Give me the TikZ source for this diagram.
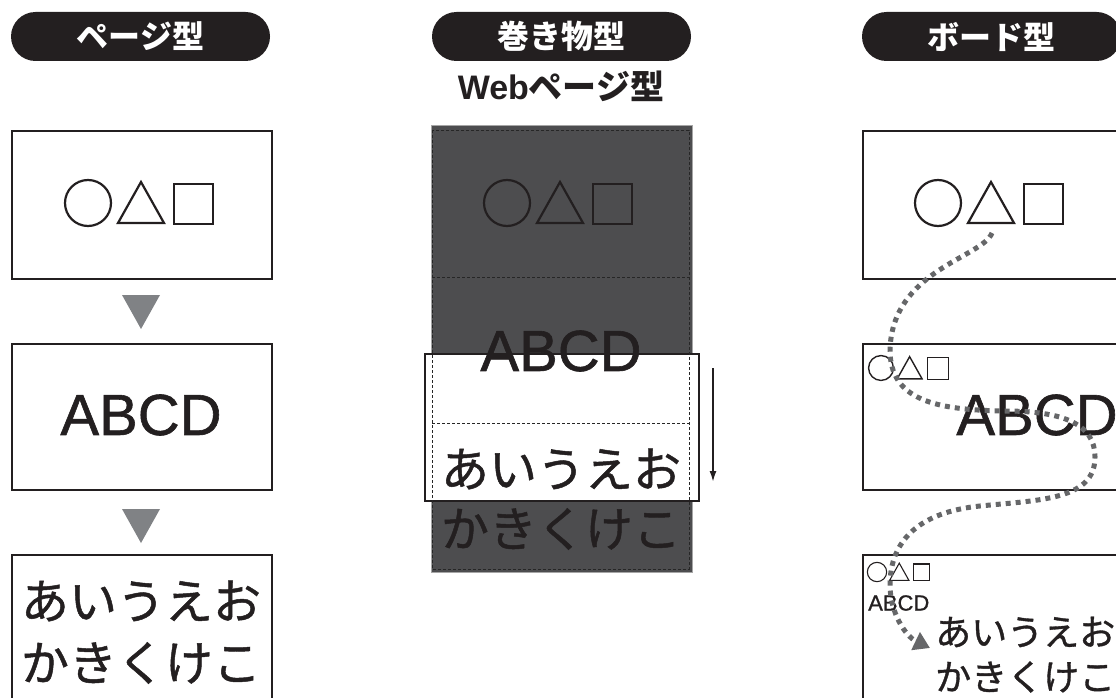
\documentclass[tikz,border=0pt]{standalone}
\usepackage{fontspec}
\setmainfont{Liberation Sans}
\newfontfamily\jp{Noto Sans CJK JP}
\newfontfamily\jpk[FakeBold=1]{Noto Sans CJK JP}
\newfontfamily\latk[FakeBold=1]{Liberation Sans}
\usetikzlibrary{arrows.meta}
\definecolor{ink}{HTML}{231F20}
\definecolor{darkfill}{HTML}{4D4D4F}
\definecolor{markc}{HTML}{808285}
\definecolor{dotc}{HTML}{666769}
\begin{document}
\begin{tikzpicture}[x=1pt,y=-1pt,
  box/.style={draw=ink,line width=2pt,anchor=north west,inner sep=0pt},
  pill/.style={fill=ink,rounded corners=24.5pt,minimum width=259pt,minimum height=49pt,inner sep=0pt,text=white,font=\jp\bfseries\fontsize{32}{32}\selectfont},
  big/.style={text=ink,inner sep=0pt,font=\latk\fontsize{58}{58}\selectfont},
  kana/.style={text=ink,inner sep=0pt,font=\jpk\fontsize{48}{48}\selectfont},
  kanasm/.style={text=ink,inner sep=0pt,anchor=west,font=\jpk\fontsize{36}{36}\selectfont},
  shp/.style={draw=ink,line width=2.2pt},
  shpsm/.style={draw=ink,line width=1.4pt},
  dsh/.style={draw=black!85,line width=0.9pt,dash pattern=on 3pt off 2pt},
  dotpath/.style={draw=dotc,line width=5pt,dash pattern=on 5pt off 5pt},
  tri3/.pic={
    \draw[pic actions] (0,0) circle (23pt);
    \draw[pic actions,line join=miter] (30,20) -- (76,20) -- (53,-21) -- cycle;
    \draw[pic actions] (86,-19) rectangle (125,21);
  }
]
\useasboundingbox (0,0) rectangle (1116,698);
\clip (0,0) rectangle (1116,698);

% ---------- headers ----------
\node[pill] (h1) at (140.5,36.5) {ページ型};
\node[pill] (h2) at (561.5,36.5) {巻き物型};
\node[pill] (h3) at (991.5,36.5) {ボード型};
\node[text=ink,inner sep=0pt] (h2sub) at (561,86) {\fontsize{34}{34}\selectfont\bfseries Web\jp ページ型};

% ---------- left column ----------
\node[box,minimum width=260pt,minimum height=148pt] (L1) at (11,130) {};
\node[box,minimum width=260pt,minimum height=146pt] (L2) at (11,343) {};
\node[box,minimum width=260pt,minimum height=170pt] (L3) at (11,554) {};
\pic[shp] at (88,203) {tri3};
\fill[markc] (122,295) -- (160,295) -- (141,329) -- cycle;
\fill[markc] (122,509) -- (160,509) -- (141,543) -- cycle;
\node[big] (LA) at (141,415) {ABCD};
\node[kana] (LK1) at (141,601) {あいうえお};
\node[kana] (LK2) at (141,663) {かきくけこ};

% ---------- middle column ----------
\node[fill=darkfill,draw=black!35,line width=0.8pt,anchor=north west,minimum width=261pt,minimum height=447pt,inner sep=0pt] (scroll) at (431,125) {};
\pic[shp] at (507,203) {tri3};
\node[fill=white,draw=ink,line width=1.5pt,anchor=north west,minimum width=274pt,minimum height=147pt,inner sep=0pt] (win) at (424,353) {};
\draw[dsh] (432,130) rectangle (689,569);
\draw[dsh] (432,277) -- (689,277);
\draw[dsh] (432,423) -- (689,423);
\node[big] (MA) at (561,351) {ABCD};
\node[kana] (MK1) at (561,469) {あいうえお};
\node[kana] (MK2) at (561,529) {かきくけこ};
\coordinate (sa) at (713,368);
\coordinate (sb) at (713,482);
\draw[ink,line width=1.8pt,-{Latex[length=11pt,width=7pt]}] (sa) -- (sb);

% ---------- right column ----------
\node[box,minimum width=272pt,minimum height=148pt] (R1) at (862,130) {};
\node[box,minimum width=272pt,minimum height=146pt] (R2) at (862,343) {};
\node[box,minimum width=272pt,minimum height=170pt] (R3) at (862,554) {};
\pic[shp] at (938,203) {tri3};
\pic[shpsm,scale=0.54] at (881,368) {tri3};
\pic[shpsm,line width=1.1pt,scale=0.42] at (877,572) {tri3};
\node[big] (RA) at (1037,415) {ABCD};
\node[text=ink,inner sep=0pt,anchor=west,font=\latk\fontsize{22}{22}\selectfont] (Ra) at (868,603) {ABCD};
\node[kanasm] (RK1) at (935,632) {あいうえお};
\node[kanasm] (RK2) at (935,677) {かきくけこ};

\coordinate (ds) at (992,233);
\coordinate (de) at (930,648);
\draw[dotpath,-{Triangle[length=16pt,width=19pt]}] (ds)
  .. controls (982,258) and (892,270) .. (890,350)
  .. controls (890,400) and (935,410) .. (1005,411)
  .. controls (1065,411) and (1095,425) .. (1095,457)
  .. controls (1095,500) and (1040,500) .. (980,506)
  .. controls (920,512) and (890,540) .. (890,585)
  .. controls (890,612) and (905,636) .. (de);
\end{tikzpicture}
\end{document}
